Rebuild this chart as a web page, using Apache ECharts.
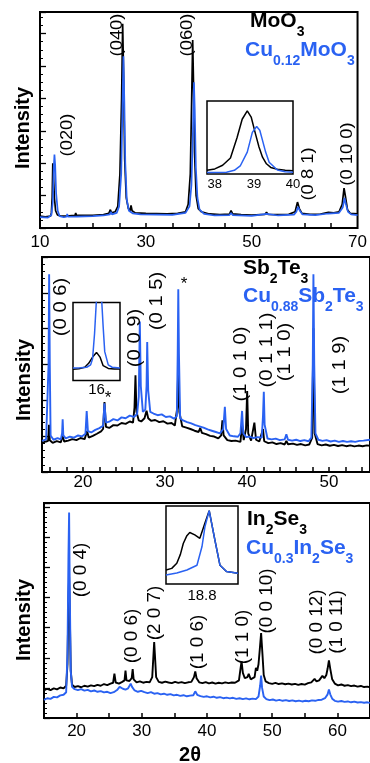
<!DOCTYPE html>
<html><head><meta charset="utf-8">
<script src="https://cdn.jsdelivr.net/npm/echarts@6/dist/echarts.min.js"></script>
<style>html,body{margin:0;padding:0;background:#fff;overflow:hidden}#c{width:370px;height:763px}</style>
</head><body><div id="c"></div>
<script>
// ---------- DATA ----------
// Panel 1: MoO3 vs Cu0.12MoO3  ([2theta, intensity a.u.])
var moo3 = [[10,5.5],[11,5.2],[12,5.5],[12.15,7],[12.3,14],[12.42,30],[12.55,24],[12.72,14],[12.95,8],[13.3,6],[14,5.5],[15,5.5],[16,5.7],[16.6,5.8],[16.75,7],[16.9,5.8],[18,5.8],[20,5.9],[22,6.2],[23,6.8],[23.3,8.5],[23.5,7],[24.2,7.5],[24.7,10],[25.1,25],[25.42,60],[25.62,94.5],[25.8,70],[26.0,32],[26.3,14],[26.7,9],[27,8],[27.2,10.5],[27.4,8],[28,7],[30,6.8],[32,6.7],[34,6.6],[36,6.8],[37.5,7.5],[38.0,11],[38.4,25],[38.66,60],[38.85,87],[39.0,68],[39.2,35],[39.5,15],[39.9,9],[40.5,7.5],[42,6.5],[44,6.2],[45.8,6.4],[46.1,8],[46.4,6.5],[48,6.2],[50,6.0],[52.5,6.3],[52.8,7.3],[53.1,6.3],[55,6.2],[57,6.3],[58.2,7.5],[58.65,12],[59.0,9],[59.5,6.8],[61,6.3],[63,6.4],[64.5,7.2],[65.5,7],[66.5,7.5],[67.1,11],[67.45,18.5],[67.75,14],[68.1,8.5],[68.6,6.8],[70,6.5]];
var cuMoo3 = [[10,5],[11.5,4.8],[12.15,6],[12.42,12],[12.6,28],[12.73,34],[12.87,29],[13.05,16],[13.35,8],[13.7,5.5],[14.5,5],[15.0,5.2],[15.15,6.5],[15.3,5.2],[17,5.3],[20,5.5],[22,5.8],[23.2,6.3],[23.4,7.5],[23.6,6.3],[24.5,7],[24.95,10],[25.35,25],[25.58,55],[25.76,79.5],[25.94,58],[26.12,30],[26.4,13],[26.8,8],[27.5,6.8],[29,6.3],[32,6.2],[35,6.1],[37.5,7],[38.25,10],[38.62,20],[38.9,45],[39.09,67.5],[39.24,55],[39.45,28],[39.75,14],[40.15,8.5],[41,6.5],[43,5.8],[45.8,6],[46.1,7],[46.4,6],[50,5.6],[52.8,6.5],[55,5.8],[58,6.2],[58.45,7.5],[58.75,9.8],[59.1,8],[59.6,6.3],[62,6],[64.5,6.7],[66.5,7],[67.2,9.5],[67.55,13.9],[67.8,11],[68.2,7.5],[68.8,6.3],[70,6]];
var moo3Inset = [[37.8,5],[38.0,7],[38.2,12],[38.4,22],[38.57,50],[38.7,75],[38.83,86.5],[38.93,78],[39.04,55],[39.13,37],[39.22,23],[39.32,14],[39.43,9],[39.6,6.5],[39.8,5],[40.0,4.5]];
var cuMoo3Inset = [[37.8,2],[38.3,2.5],[38.5,5],[38.65,11],[38.83,30],[38.96,57],[39.07,65],[39.15,60],[39.22,46],[39.3,30],[39.39,16],[39.6,5.5],[39.8,3],[40,2.5]];

// Panel 2: Sb2Te3 vs Cu0.88Sb2Te3
var sbte = [[15,13.5],[15.5,14.2],[15.75,14.5],[15.85,22],[15.95,14.8],[16.3,13.6],[16.8,14.4],[17.3,13.8],[17.5,17],[17.7,14.2],[18.2,14.6],[18.7,15.3],[19.2,14.8],[19.7,15.8],[20.2,15.3],[20.5,19],[20.7,16],[21.2,16.8],[21.7,17.8],[22.2,18.9],[22.45,20],[22.62,32.5],[22.8,21],[23.2,20.5],[23.7,21.8],[24.2,21.6],[24.7,22.8],[25.2,22.4],[25.7,23.5],[26.1,23],[26.28,30],[26.4,45],[26.52,28],[26.8,24],[27.1,23.5],[27.5,25],[27.75,28.5],[27.95,25],[28.3,23.8],[28.8,24.2],[29.3,23.2],[29.8,23.6],[30.3,22.5],[30.8,22.8],[31.2,21.6],[31.5,30],[31.62,49.7],[31.75,28],[32.1,21.2],[32.6,20.6],[33.1,20],[33.6,19.2],[34.1,18.6],[34.3,20.5],[34.5,18.2],[35,17.6],[35.5,16.8],[36,16.5],[36.5,15.6],[36.85,17],[37.0,24],[37.15,17],[37.6,14.8],[38.1,14.4],[38.6,14.6],[39.2,14],[39.4,22],[39.6,14.8],[39.88,20],[40.02,37.7],[40.15,18],[40.5,14.6],[40.9,23],[41.1,15],[41.5,14.2],[41.95,20],[42.1,14.3],[42.6,13.4],[43.1,13.8],[43.6,13],[44.1,13.4],[44.6,12.8],[44.8,14.5],[45,12.9],[45.6,13.2],[46.1,12.6],[46.6,13],[47.1,12.4],[47.6,12.8],[47.95,16],[48.1,66.8],[48.25,18],[48.6,13],[49.1,12.4],[49.6,12.8],[50.1,12.2],[50.6,12.6],[51.1,12.1],[51.6,12.5],[52.1,12],[52.6,12.4],[53.1,11.9],[53.6,12.3],[54.1,12],[54.6,12.4],[55,12.2]];
var cuSbte = [[15,14.5],[15.5,15.2],[15.7,16],[15.8,50],[15.87,92],[15.95,50],[16.05,17],[16.4,15],[16.9,15.8],[17.3,15.2],[17.45,18],[17.52,24.5],[17.6,17],[17.9,15.6],[18.4,16.4],[18.9,16],[19.4,17],[19.9,16.6],[20.3,17.8],[20.45,28.4],[20.6,19],[21,18.4],[21.5,19.6],[22,20.4],[22.45,21.5],[22.62,32],[22.8,23],[23.2,23.4],[23.7,24.6],[24.2,24],[24.7,25.4],[25.2,25],[25.7,26.2],[26.2,25.6],[26.6,27],[26.8,35],[26.93,70],[27.05,40],[27.3,28],[27.6,29],[27.75,40],[27.83,60.5],[27.95,38],[28.2,28],[28.6,27.2],[29.1,26.4],[29.6,26.8],[30.1,25.6],[30.6,25.9],[31.1,24.8],[31.45,26],[31.55,55],[31.62,85],[31.7,55],[31.85,25],[32.2,24],[32.7,23.2],[33.2,22.6],[33.7,21.8],[34.2,21.2],[34.7,20.6],[35.2,19.8],[35.7,19.2],[36.2,18.6],[36.7,18],[37.1,20],[37.3,30.3],[37.45,20],[37.9,17],[38.4,16.6],[38.9,16.4],[39.2,18],[39.4,28.4],[39.55,18],[39.9,16.2],[40.3,16.5],[40.8,15.8],[41.3,16.2],[41.8,16],[41.95,26],[42.05,37.3],[42.15,22],[42.5,15.6],[43,15.2],[43.5,15.5],[44,14.8],[44.6,15.2],[44.8,17.5],[45,15.0],[45.5,14.6],[46,15],[46.5,14.4],[47,14.8],[47.5,14.3],[47.85,16],[48.02,50],[48.1,92],[48.2,50],[48.35,18],[48.7,15],[49.2,14.5],[49.7,14.8],[50.2,14.2],[50.7,14.6],[51.2,14],[51.7,14.4],[52.2,14],[52.7,14.3],[53.2,14],[53.7,14.5],[54.2,14.6],[55,15]];
var sbteInset = [[15.4,14.5],[15.55,15],[15.7,17],[15.8,22],[15.9,30],[16.0,36],[16.09,30],[16.17,19],[16.3,15.5],[16.45,14.8],[16.6,14.6]];
var cuSbteInset = [[15.4,16],[15.6,16.5],[15.75,17],[15.85,20],[15.9,28],[15.95,60],[16.0,105],[16.07,130],[16.13,105],[16.17,69],[16.21,37],[16.3,20],[16.4,17],[16.6,16]];

// Panel 3: In2Se3 vs Cu0.3In2Se3
var inse = [[15,12.8],[15.5,13.6],[16,13.0],[16.5,13.8],[17,13.3],[17.5,14.2],[18.0,13.8],[18.4,15],[18.6,25],[18.75,55],[18.85,65.6],[18.95,50],[19.1,22],[19.3,15.5],[19.7,14.4],[20.2,14.8],[20.7,14.3],[21.2,15],[21.7,14.6],[22.2,15.2],[22.7,14.8],[23.2,15.4],[23.7,15],[24.2,15.8],[24.7,15.3],[25.2,16],[25.6,16.4],[25.8,20.6],[26.0,16.5],[26.5,16],[27.0,16.8],[27.35,17.5],[27.5,22.1],[27.65,17.5],[28.1,17.2],[28.45,18.5],[28.6,22.8],[28.75,18],[29.2,16.6],[29.7,17],[30.2,16.4],[30.7,16.8],[31.2,16.6],[31.6,19],[31.8,30],[31.9,35.3],[32.0,30],[32.2,19],[32.6,16.8],[33.1,16.4],[33.6,16.9],[34.1,16.5],[34.6,16.2],[35.1,16.8],[35.6,16.3],[36.1,16.7],[36.6,16.2],[37.1,16.6],[37.6,16.8],[38.0,19],[38.2,21.7],[38.4,18.5],[38.8,16.6],[39.3,16.2],[39.8,16.7],[40.3,16.1],[40.8,16.5],[41.3,16.0],[41.8,16.4],[42.3,16.1],[42.8,16.6],[43.3,16.2],[43.8,16.5],[44.3,16.4],[44.9,17.5],[45.1,22],[45.3,26.3],[45.5,21],[45.8,18.5],[46.2,19],[46.4,20.5],[46.7,18],[47.0,17.6],[47.3,19],[47.5,23.3],[47.7,22],[47.9,25],[48.1,32],[48.3,39.5],[48.5,30],[48.7,20],[49.0,17],[49.5,16.2],[50,15.9],[50.5,16.3],[51,15.8],[51.5,16.1],[52,15.7],[52.5,16],[53,15.6],[53.5,15.9],[54,15.4],[54.5,15.8],[55,15.5],[55.5,16.2],[56,16.6],[56.5,18.2],[56.8,17],[57.2,17.5],[57.7,19.6],[58.0,18.5],[58.3,20],[58.5,23],[58.7,26.8],[58.9,23],[59.2,18],[59.6,16],[60.1,15.2],[60.6,15.6],[61.1,15],[61.6,15.3],[62.1,14.8],[62.6,15.1],[63.1,14.6],[63.6,14.9],[64.1,14.4],[64.6,14.6],[65,14.3]];
var cuInse = [[15,8.4],[15.5,9.2],[16,8.9],[16.5,9.8],[17,9.6],[17.5,10.5],[18.0,10.8],[18.4,12],[18.6,30],[18.75,75],[18.85,95.6],[18.95,60],[19.1,22],[19.3,14.5],[19.7,13.4],[20.2,13],[20.7,13.4],[21.2,12.7],[21.7,13.1],[22.2,12.4],[22.7,12.8],[23.2,12.2],[23.7,12.5],[24.2,11.9],[24.7,12.2],[25.2,11.6],[25.7,12],[26.2,13],[26.6,14.5],[26.8,14.8],[27.1,13.6],[27.5,13.2],[27.9,13.8],[28.3,16],[28.5,14.5],[28.9,12.8],[29.4,12.2],[29.9,12.6],[30.4,12],[30.9,11.6],[31.4,12],[31.9,11.3],[32.4,11.6],[32.9,11],[33.4,11.3],[33.9,10.8],[34.4,11.1],[34.9,10.5],[35.4,10.8],[35.9,10.3],[36.4,10.6],[36.9,10.1],[37.4,10.4],[37.9,10.6],[38.2,12.4],[38.5,10.8],[39,10.2],[39.5,9.8],[40,10.1],[40.5,9.6],[41,9.9],[41.5,9.4],[42,9.7],[42.5,9.2],[43,9.5],[43.5,9.1],[44,9.4],[44.5,8.9],[45,9.2],[45.5,8.8],[46,9.1],[46.5,8.7],[47,9.0],[47.5,8.8],[47.9,10],[48.15,15],[48.3,19.7],[48.45,14],[48.7,10],[49.1,8.8],[49.6,8.3],[50.1,8.6],[50.6,8.1],[51.1,8.4],[51.6,8.0],[52.1,8.3],[52.6,7.9],[53.1,8.2],[53.6,7.8],[54.1,8.1],[54.6,7.7],[55.1,8.0],[55.6,7.8],[56.1,8.2],[56.6,8],[57.1,8.4],[57.6,8.5],[58.1,9.2],[58.5,11],[58.7,13.2],[58.9,11],[59.2,9],[59.6,8],[60.1,7.6],[60.6,7.9],[61.1,7.5],[61.6,7.7],[62.1,7.3],[62.6,7.6],[63.1,7.2],[63.6,7.4],[64.1,7.1],[64.6,7.3],[65,7.0]];
var inseInset = [[18.3,18],[18.38,20],[18.45,26.5],[18.5,38],[18.54,52],[18.59,62],[18.63,66],[18.7,63],[18.77,58.6],[18.84,78],[18.9,94],[18.98,56],[19.05,24],[19.14,16],[19.3,13.7]];
var cuInseInset = [[18.3,11.5],[18.45,14],[18.59,18],[18.73,24],[18.8,48],[18.84,73],[18.9,94],[18.98,56],[19.05,24],[19.14,16],[19.3,13.7]];

// tick values and labels
var ticks1 = [15,20,25,30,35,40,45,50,55,60,65];
var labels1 = [10,30,50,70];
var ticks2 = [16,18,20,22,24,26,28,30,32,34,36,38,40,42,44,46,48,50,52,54];
var labels2 = [20,30,40,50];
var ticks3 = [20,25,30,35,40,45,50,55,60];
var labels3 = [20,30,40,50,60];
var insetLabels1 = [38,39,40];
var insetLabels2 = [16];
var insetLabels3 = [18.8];

var hkl1 = ['(020)','(040)','(060)','(0 8 1)','(0 10 0)'];
var hkl2 = ['(0 0 6)','(0 0 9)','(0 1 5)','(1 0 1 0)','(0 1 1 1)','(1 1 0)','(1 1 9)'];
var hkl3 = ['(0 0 4)','(0 0 6)','(2 0 7)','(1 0 6)','(1 1 0)','(0 0 10)','(0 0 12)','(1 0 11)'];

// ---------- LAYOUT / STYLE ----------
var FONT = 'Liberation Sans, Arial, Helvetica, sans-serif';
var BLUE = '#2a62f2';
var BLACK = '#000';

var hklPos1 = [[68,135],[118,35],[188,35],[309,174],[348,154]];
var hklPos2 = [[61,307],[135,338],[157,301],[241,364],[267,350],[285,352],[340,365]];
var hklPos3 = [[81,570],[132,636],[155,613],[198,642],[243,637],[267,601],[317,622],[337,622]];

function mainGrid(l, t, w, h) { return {left:l, top:t, width:w, height:h, show:true, borderColor:'#000', borderWidth:2, backgroundColor:'transparent', containLabel:false}; }
function insetGrid(l, t, w, h) { return {left:l, top:t, width:w, height:h, show:true, borderColor:'#000', borderWidth:1.5, backgroundColor:'#fff', containLabel:false, z:5}; }

var grids = [
  mainGrid(40, 12, 328, 216),
  mainGrid(42, 257, 342, 215),
  mainGrid(44, 503, 331, 215),
  insetGrid(207, 101, 86, 73),
  insetGrid(73, 302.5, 47, 78),
  insetGrid(166, 506, 72, 78)
];

function xMain(gi, min, max, ticks, labels, margin) {
  return {type:'value', gridIndex:gi, min:min, max:max,
    axisLine:{show:false}, splitLine:{show:false},
    axisTick:{show:true, inside:true, length:5, lineStyle:{color:'#000', width:1.5}, customValues:ticks},
    axisLabel:{show:true, customValues:labels, color:'#000', fontSize:17, fontFamily:FONT, margin:margin}};
}
function yMain(gi, interval, minorSplit) {
  return {type:'value', gridIndex:gi, min:0, max:100, interval:interval,
    axisLine:{show:false}, splitLine:{show:false},
    axisTick:{show:true, inside:true, length:6, lineStyle:{color:'#000', width:1.3}},
    minorTick:{show:true, splitNumber:minorSplit, length:3, lineStyle:{color:'#000', width:1}},
    minorSplitLine:{show:false},
    axisLabel:{show:false}};
}
function xInset(gi, min, max, labels, fs, margin) {
  return {type:'value', gridIndex:gi, min:min, max:max, z:6,
    axisLine:{show:false}, splitLine:{show:false}, axisTick:{show:false},
    axisLabel:{show:true, customValues:labels, color:'#000', fontSize:fs, fontFamily:FONT, margin:margin}};
}
function yInset(gi) {
  return {type:'value', gridIndex:gi, min:0, max:100, z:6,
    axisLine:{show:false}, splitLine:{show:false}, axisTick:{show:false}, axisLabel:{show:false}};
}

function line(data, color, xi, w, z) {
  return {type:'line', xAxisIndex:xi, yAxisIndex:xi, data:data, symbol:'none', showSymbol:false,
    lineStyle:{color:color, width:w}, clip:true, silent:true, z:z || 2, animation:false};
}

var graphics = [];
function rotLabel(txt, pos, fs, sx) {
  graphics.push({type:'text', x:pos[0], y:pos[1], rotation:Math.PI/2, scaleX:sx, z:100,
    style:{text:txt, font:fs + 'px ' + FONT, fill:'#000', textAlign:'center', textVerticalAlign:'middle'}});
}
hkl1.forEach(function(t,i){ rotLabel(t, hklPos1[i], 16, 1.15); });
hkl2.forEach(function(t,i){ rotLabel(t, hklPos2[i], 18, 1.12); });
hkl3.forEach(function(t,i){ rotLabel(t, hklPos3[i], 18, 1.05); });

function legendText(str, x, y, color) {
  graphics.push({type:'text', x:x, y:y, z:100,
    style:{text:str, fill:color, textAlign:'left', textVerticalAlign:'top',
      rich:{m:{fontSize:21, fontWeight:'bold', fontFamily:FONT, fill:color, lineHeight:28, verticalAlign:'top'},
            s:{fontSize:14, fontWeight:'bold', fontFamily:FONT, fill:color, lineHeight:14, verticalAlign:'bottom'}}}});
}
legendText('{m|MoO}{s|3}', 250, 11, BLACK);
legendText('{m|Cu}{s|0.12}{m|MoO}{s|3}', 245, 40, BLUE);
legendText('{m|Sb}{s|2}{m|Te}{s|3}', 243, 258, BLACK);
legendText('{m|Cu}{s|0.88}{m|Sb}{s|2}{m|Te}{s|3}', 243, 286, BLUE);
legendText('{m|In}{s|2}{m|Se}{s|3}', 247, 509, BLACK);
legendText('{m|Cu}{s|0.3}{m|In}{s|2}{m|Se}{s|3}', 246, 538, BLUE);

function yTitle(x, y) {
  graphics.push({type:'text', x:x, y:y, rotation:Math.PI/2, z:100,
    style:{text:'Intensity', font:'bold 20px ' + FONT, fill:'#000', textAlign:'center', textVerticalAlign:'middle'}});
}
yTitle(23, 128); yTitle(24, 380); yTitle(24, 620);
graphics.push({type:'text', x:190, y:755, z:100, style:{text:'2θ', font:'bold 20px ' + FONT, fill:'#000', textAlign:'center', textVerticalAlign:'middle'}});
graphics.push({type:'text', x:184, y:284, z:100, style:{text:'*', font:'17px ' + FONT, fill:'#000', textAlign:'center', textVerticalAlign:'middle'}});
graphics.push({type:'text', x:108, y:398, z:100, style:{text:'*', font:'17px ' + FONT, fill:'#000', textAlign:'center', textVerticalAlign:'middle'}});

var option = {
  backgroundColor:'#fff',
  animation:false,
  grid: grids,
  xAxis: [
    xMain(0, 10, 70, ticks1, labels1, 6),
    xMain(1, 15, 55, ticks2, labels2, 2),
    xMain(2, 15, 65, ticks3, labels3, 5),
    xInset(3, 37.8, 40, insetLabels1, 13, 4),
    xInset(4, 15.4, 16.6, insetLabels2, 15, 2),
    xInset(5, 18.3, 19.3, insetLabels3, 15, 4)
  ],
  yAxis: [
    yMain(0, 15, 4),
    yMain(1, 100/6, 5),
    yMain(2, 14, 6),
    yInset(3), yInset(4), yInset(5)
  ],
  series: [
    line(moo3, BLACK, 0, 1.7), line(cuMoo3, BLUE, 0, 1.7),
    line(sbte, BLACK, 1, 1.9), line(cuSbte, BLUE, 1, 1.9),
    line(inse, BLACK, 2, 1.9), line(cuInse, BLUE, 2, 1.9),
    line(moo3Inset, BLACK, 3, 1.5, 10), line(cuMoo3Inset, BLUE, 3, 1.5, 10),
    line(sbteInset, BLACK, 4, 1.5, 10), line(cuSbteInset, BLUE, 4, 1.5, 10),
    line(inseInset, BLACK, 5, 1.5, 10), line(cuInseInset, BLUE, 5, 1.5, 10)
  ],
  graphic: graphics
};
var chart = echarts.init(document.getElementById('c'), null, {renderer:'canvas'});
chart.setOption(option);
</script></body></html>
